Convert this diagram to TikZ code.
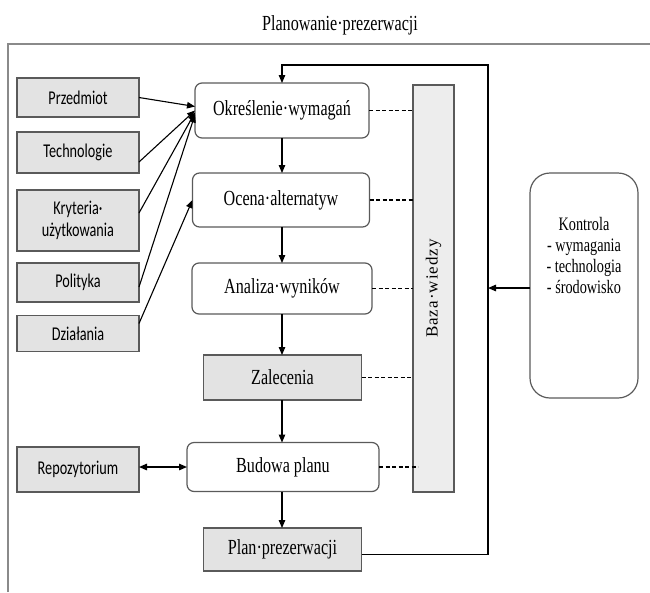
\documentclass[tikz,border=0pt]{standalone}
\usepackage{fontspec}
\setmainfont{Liberation Serif}[FakeStretch=0.75]
\newfontfamily\labelsans{Carlito}[FakeStretch=0.73]
\newfontfamily\spacedserif{Liberation Serif}[LetterSpace=6]
\usetikzlibrary{arrows.meta}
\definecolor{boxgray}{HTML}{E3E3E3}
\definecolor{basegray}{HTML}{EDEDED}
\definecolor{edgegray}{HTML}{5A5A5A}
\definecolor{framegray}{HTML}{8A8A8A}

\begin{document}
\begin{tikzpicture}[x=1pt,y=-1pt,
  every node/.style={inner sep=0pt, outer sep=0pt},
  stepbox/.style={draw=edgegray, line width=1.2pt, rounded corners=7pt, fill=white,
    font=\fontsize{21.5}{25}\selectfont},
  resultbox/.style={draw=edgegray, line width=1.2pt, fill=boxgray,
    font=\fontsize{21.5}{25}\selectfont},
  sourcebox/.style={draw=edgegray, line width=1.2pt, fill=boxgray, minimum width=122pt,
    font=\labelsans\fontsize{19.5}{22}\selectfont, align=center},
  link/.style={line width=1.1pt, -{Triangle[length=8pt,width=6.5pt]}},
  twolink/.style={line width=1.4pt, {Triangle[length=8pt,width=6.5pt]}-{Triangle[length=8pt,width=6.5pt]}},
  dotlink/.style={line width=1.2pt, dash pattern=on 4pt off 2.5pt},
]
\useasboundingbox (0,0) rectangle (650,592);

% outer frame (only top and left edges fall inside the page)
\draw[framegray, line width=1.5pt] (8,592) |- (650,44);

% title
\node[font=\fontsize{21.5}{25}\selectfont] (title) at (340,25) {Planowanie·prezerwacji};

% input boxes on the left
\node[sourcebox, minimum height=39pt] (przedmiot) at (78,97.5) {Przedmiot};
\node[sourcebox, minimum height=41pt] (technologie) at (78,152.5) {Technologie};
\node[sourcebox, minimum height=61pt] (kryteria) at (78,220.5) {Kryteria·\\użytkowania};
\node[sourcebox, minimum height=39pt] (polityka) at (78,282.5) {Polityka};
\node[sourcebox, minimum height=36pt] (dzialania) at (78,333.5) {Działania};
\node[sourcebox, minimum height=45pt] (repozytorium) at (78,469.5) {Repozytorium};

% main process column
\node[stepbox, minimum width=174pt, minimum height=55pt] (okreslenie) at (282,110.5) {Określenie·wymagań};
\node[stepbox, minimum width=177pt, minimum height=54pt] (ocena) at (281,200) {Ocena·alternatyw};
\node[stepbox, minimum width=180pt, minimum height=51pt] (analiza) at (282,288.5) {Analiza·wyników};
\node[resultbox, minimum width=158pt, minimum height=45pt] (zalecenia) at (282.5,377.5) {Zalecenia};
\node[stepbox, minimum width=192pt, minimum height=49pt] (budowa) at (283,467) {Budowa planu};
\node[resultbox, minimum width=158pt, minimum height=43pt] (plan) at (282.5,549.5) {Plan·prezerwacji};

% knowledge base
\node[draw=edgegray, line width=1.2pt, fill=basegray, minimum width=41pt, minimum height=407pt,
  label={[rotate=90, font=\spacedserif\fontsize{17}{20}\selectfont]center:Baza·wiedzy}]
  (baza) at (433.5,288.5) {};

% control box
\node[draw=edgegray, line width=1.2pt, rounded corners=20pt, minimum width=108pt, minimum height=225pt,
  label={[anchor=north, yshift=-44pt, align=center, font=\fontsize{19}{21}\selectfont]north:Kontrola\\- wymagania\\- technologia\\- środowisko}]
  (kontrola) at (584,285.5) {};

% inputs into the first steps
\draw[link] (przedmiot.east) -- ([yshift=4pt]okreslenie.west);
\draw[link] ([yshift=-9.5pt]technologie.east) -- (okreslenie.west);
\draw[link] ([yshift=7.5pt]kryteria.east) -- ([yshift=-2pt]okreslenie.west);
\draw[link] ([yshift=-4.5pt]polityka.east) -- ([yshift=-4pt]okreslenie.west);
\draw[link] ([yshift=10pt]dzialania.east) -- (ocena.west);

% process flow
\draw[link] (okreslenie.south) -- (okreslenie.south |- ocena.north);
\draw[link] (ocena.south -| okreslenie.south) -- (okreslenie.south |- analiza.north);
\draw[link] (analiza.south -| okreslenie.south) -- (okreslenie.south |- zalecenia.north);
\draw[link] (zalecenia.south -| okreslenie.south) -- (okreslenie.south |- budowa.north);
\draw[link] (budowa.south -| okreslenie.south) -- (okreslenie.south |- plan.north);
\draw[twolink] (repozytorium.east |- budowa.west) -- (budowa.west);

% links to the knowledge base
\draw[dotlink] (okreslenie.east) -- (okreslenie.east -| baza.west);
\draw[dotlink] (ocena.east) -- (ocena.east -| baza.west);
\draw[dotlink] (analiza.east) -- (analiza.east -| baza.west);
\draw[dotlink] (zalecenia.east) -- (zalecenia.east -| baza.west);
\draw[dotlink] (budowa.east) -- ([xshift=5pt]budowa.east -| baza.west);

% feedback loop and control input
\coordinate (loopright) at (488,65);
\draw[link] ([yshift=-5pt]plan.east) -| (loopright) -- (loopright -| okreslenie.north) -- (okreslenie.north);
\draw[link] ([yshift=-2.5pt]kontrola.west) -- ([yshift=-2.5pt]kontrola.west -| loopright);
\end{tikzpicture}
\end{document}
